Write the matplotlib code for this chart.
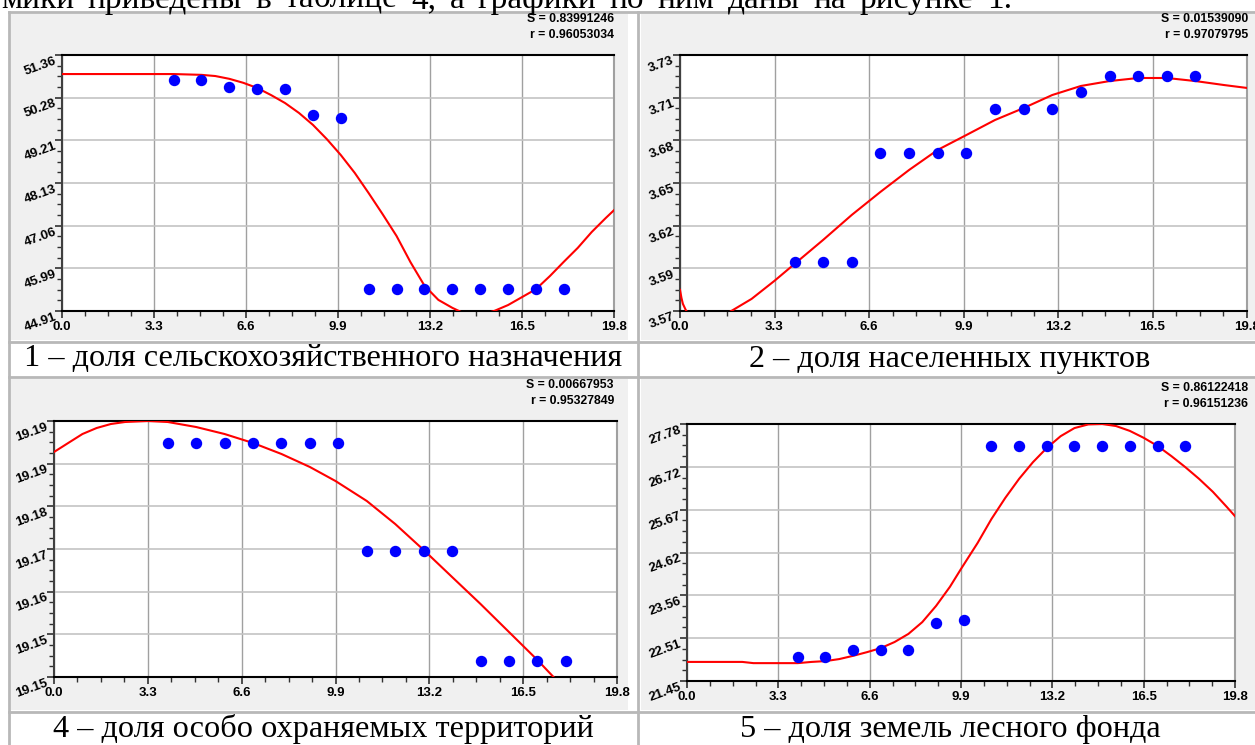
import matplotlib.pyplot as plt
from matplotlib.patches import Rectangle
from matplotlib.lines import Line2D
from matplotlib.ticker import AutoMinorLocator

W, H = 1255, 745

# ---- data ----
x_points = [4, 5, 6, 7, 8, 9, 10, 11, 12, 13, 14, 15, 16, 17, 18]

agri_y = [50.73, 50.73, 50.55, 50.50, 50.50, 49.85, 49.77,
          45.46, 45.46, 45.46, 45.46, 45.46, 45.46, 45.46, 45.46]
agri_curve_x = [0, 1, 2, 3, 4, 5, 5.5, 6, 6.5, 7, 7.5, 8, 8.5, 9, 9.5, 10, 10.5,
                11, 11.5, 12, 12.5, 13, 13.5, 14, 14.3, 14.5, 15, 15.4, 15.5, 16,
                16.5, 17, 17.5, 18, 18.5, 19, 19.5, 19.8]
agri_curve_y = [50.88, 50.88, 50.88, 50.88, 50.88, 50.86, 50.83, 50.76, 50.66, 50.53,
                50.35, 50.15, 49.90, 49.60, 49.24, 48.84, 48.39, 47.88, 47.35, 46.80,
                46.14, 45.55, 45.19, 44.99, 44.89, 44.81, 44.76, 44.89, 44.91, 45.06,
                45.26, 45.46, 45.79, 46.15, 46.50, 46.90, 47.25, 47.45]

settle_y = [3.598, 3.598, 3.598, 3.669, 3.669, 3.669, 3.669,
            3.698, 3.698, 3.698, 3.709, 3.719, 3.719, 3.719, 3.719]
settle_curve_x = [0, 0.05, 0.1, 0.2, 0.3, 0.5, 1.0, 1.5, 1.8, 2.5, 3.3, 4, 5, 6, 7, 8,
                  9, 10, 11, 12, 13, 14, 15, 16, 16.5, 17, 18, 19, 19.8]
settle_curve_y = [3.5798, 3.5746, 3.5707, 3.5667, 3.5641, 3.5602, 3.5589, 3.5628,
                  3.5661, 3.5739, 3.5857, 3.5967, 3.6124, 3.6287, 3.6437, 3.6580,
                  3.6711, 3.6808, 3.6906, 3.6984, 3.7069, 3.7128, 3.7160, 3.7180,
                  3.7180, 3.7180, 3.7160, 3.7134, 3.7115]

protect_y = [19.1898, 19.1898, 19.1898, 19.1898, 19.1898, 19.1898, 19.1898,
             19.1700, 19.1700, 19.1700, 19.1700, 19.1500, 19.1500, 19.1500, 19.1500]
protect_curve_x = [0, 0.5, 1, 1.5, 2, 2.5, 3.3, 4, 5, 6, 7, 8, 9, 9.9, 11, 12, 13,
                   14, 15, 16, 17, 17.6]
protect_curve_y = [19.18813, 19.18978, 19.19142, 19.19252, 19.19325, 19.19362,
                   19.19380, 19.19362, 19.19270, 19.19142, 19.18978, 19.18777,
                   19.18539, 19.18283, 19.17918, 19.17497, 19.17022, 19.16528,
                   19.16035, 19.15523, 19.15011, 19.14682]

forest_y = [22.04, 22.04, 22.21, 22.21, 22.21, 22.88, 22.95,
            27.24, 27.24, 27.24, 27.24, 27.24, 27.24, 27.24, 27.24]
forest_curve_x = [0, 1, 2, 2.4, 3, 4, 4.5, 5, 5.5, 6, 6.5, 7, 7.5, 8, 8.5, 9, 9.5,
                  9.9, 10.5, 11, 11.5, 12, 12.5, 13, 13.5, 14, 14.5, 15, 15.5, 16,
                  16.5, 17, 17.5, 18, 18.5, 19, 19.5, 19.8]
forest_curve_y = [21.92, 21.92, 21.92, 21.89, 21.89, 21.89, 21.92, 21.94, 21.99,
                  22.07, 22.16, 22.26, 22.41, 22.61, 22.90, 23.30, 23.77, 24.21,
                  24.85, 25.44, 25.96, 26.43, 26.84, 27.19, 27.48, 27.68, 27.77,
                  27.78, 27.73, 27.61, 27.44, 27.24, 26.99, 26.72, 26.43, 26.11,
                  25.74, 25.51]

x_ticks = [0.0, 3.3, 6.6, 9.9, 13.2, 16.5, 19.8]
x_labels = ["0.0", "3.3", "6.6", "9.9", "13.2", "16.5", "19.8"]

agri_ylim = (44.91, 51.36)
agri_labels = ["44.91", "45.99", "47.06", "48.13", "49.21", "50.28", "51.36"]
settle_ylim = (3.566, 3.733)
settle_labels = ["3.57", "3.59", "3.62", "3.65", "3.68", "3.71", "3.73"]
protect_ylim = (19.147, 19.1938)
protect_labels = ["19.15", "19.15", "19.16", "19.17", "19.18", "19.19", "19.19"]
forest_ylim = (21.45, 27.78)
forest_labels = ["21.45", "22.51", "23.56", "24.62", "25.67", "26.72", "27.78"]

stats = [("S = 0.83991246", "r = 0.96053034"),
         ("S = 0.01539090", "r = 0.97079795"),
         ("S = 0.00667953", "r = 0.95327849"),
         ("S = 0.86122418", "r = 0.96151236")]

captions = ["1 – доля сельскохозяйственного назначения",
            "2 – доля населенных пунктов",
            "4 – доля особо охраняемых территорий",
            "5 – доля земель лесного фонда"]

top_text = "мики приведены в таблице 4, а графики по ним даны на рисунке 1."


def fx(px):
    return px / W


def fy(py):
    return 1 - py / H


fig = plt.figure(figsize=(W / 100, H / 100), dpi=100)
fig.patch.set_facecolor('white')

serif = ['Liberation Serif', 'DejaVu Serif']
sans = ['Liberation Sans', 'DejaVu Sans']

# table cells: gray chart panels and grid lines
panels = [(11, 14, 628, 340), (641, 14, 1260, 340), (11, 379, 628, 710), (641, 379, 1260, 710)]
for x0, y0, x1, y1 in panels:
    fig.add_artist(Rectangle((fx(x0), fy(y1)), fx(x1 - x0), (y1 - y0) / H,
                             transform=fig.transFigure, facecolor='#f0f0f0',
                             edgecolor='none', zorder=-2))
border = '#b8b8b8'
for xv in [9, 638]:
    fig.add_artist(Line2D([fx(xv), fx(xv)], [fy(12), fy(745)], transform=fig.transFigure,
                          color=border, lw=2, zorder=-1))
for yv in [12, 342, 377, 712]:
    fig.add_artist(Line2D([fx(9), 1], [fy(yv), fy(yv)], transform=fig.transFigure,
                          color=border, lw=2, zorder=-1))

# justified line of body text, only its lower part shows at the top edge
renderer = fig.canvas.get_renderer()
words = top_text.split(' ')
word_texts = [fig.text(0, fy(8), w, ha='left', va='baseline', fontsize=24, family=serif)
              for w in words]
widths = [t.get_window_extent(renderer).width for t in word_texts]
line_start, line_end = 1, 1012
gap = (line_end - line_start - sum(widths)) / (len(words) - 1)
xpos = line_start
for t, wdt in zip(word_texts, widths):
    t.set_x(fx(xpos))
    xpos += wdt + gap

axes_px = [(62, 55, 614, 311), (680, 55, 1247, 311), (54, 421, 617, 677), (687, 424, 1235, 681)]
series = [(agri_y, agri_curve_x, agri_curve_y, agri_ylim, agri_labels),
          (settle_y, settle_curve_x, settle_curve_y, settle_ylim, settle_labels),
          (protect_y, protect_curve_x, protect_curve_y, protect_ylim, protect_labels),
          (forest_y, forest_curve_x, forest_curve_y, forest_ylim, forest_labels)]
stat_pos = [(614, 19, 35), (1248, 19, 35), (614, 385, 401), (1248, 388, 404)]
cap_pos = [(323, 359), (950, 359), (323, 729), (950, 729)]

for i, (x0, y0, x1, y1) in enumerate(axes_px):
    pts_y, cx, cy, ylim, ylabels = series[i]
    ax = fig.add_axes([fx(x0), fy(y1), fx(x1 - x0), (y1 - y0) / H])
    ax.set_facecolor('white')
    ax.set_axisbelow(True)
    ax.plot(cx, cy, color='#ff0000', lw=1.5, zorder=3)
    ax.plot(x_points, pts_y, 'o', color='#0000ff', ms=7.2, mec='#0000ff', zorder=4)
    ax.set_xlim(0, 19.8)
    ax.set_ylim(*ylim)
    step = (ylim[1] - ylim[0]) / 6
    yt = [ylim[0] + k * step for k in range(7)]
    ax.set_xticks(x_ticks)
    ax.set_xticklabels(x_labels, fontsize=9.5, fontweight='bold', family=sans)
    ax.set_yticks(yt)
    ax.set_yticklabels(ylabels, fontsize=9.5, fontweight='bold', family=sans,
                       rotation=20, ha='right', va='top', rotation_mode='anchor')
    ax.xaxis.set_minor_locator(AutoMinorLocator(4))
    ax.yaxis.set_minor_locator(AutoMinorLocator(4))
    ax.tick_params(which='major', direction='out', length=5, width=1.2, color='#303030', pad=2)
    ax.tick_params(which='minor', direction='out', length=3.5, width=1.0, color='#303030')
    ax.tick_params(axis='y', pad=1)
    ax.grid(axis='x', which='major', color='#a0a0a0', lw=1.0)
    ax.grid(axis='y', which='major', color='#c4c4c4', lw=1.2)
    for side in ['top', 'bottom']:
        ax.spines[side].set_color('black')
        ax.spines[side].set_linewidth(1.5)
    ax.spines['left'].set_color('#404040')
    ax.spines['left'].set_linewidth(1.5)
    ax.spines['right'].set_color('#a0a0a0')
    ax.spines['right'].set_linewidth(1.5)

    sx, sy1, sy2 = stat_pos[i]
    fig.text(fx(sx), fy(sy1), stats[i][0], ha='right', va='center', fontsize=8.8,
             fontweight='bold', family=sans)
    fig.text(fx(sx), fy(sy2), stats[i][1], ha='right', va='center', fontsize=8.8,
             fontweight='bold', family=sans)
    cxp, cyp = cap_pos[i]
    fig.text(fx(cxp), fy(cyp), captions[i], ha='center', va='center', fontsize=23.2,
             family=serif)

fig.savefig('out.png', dpi=100)
